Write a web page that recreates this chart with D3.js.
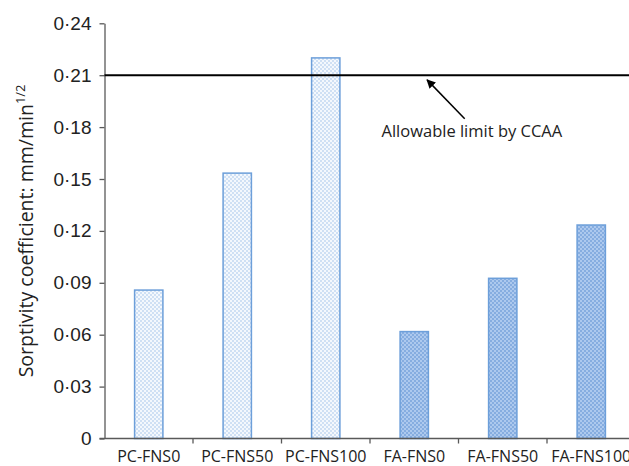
<!DOCTYPE html>
<html>
<head>
<meta charset="utf-8">
<script src="https://cdn.jsdelivr.net/npm/d3@7"></script>
<style>
  body { margin: 0; background: #fff; }
  svg { display: block; font-family: "Open Sans", sans-serif; }
</style>
</head>
<body>
<div id="chart"></div>
<script>
// chart data
const categories = ['PC-FNS0', 'PC-FNS50', 'PC-FNS100', 'FA-FNS0', 'FA-FNS50', 'FA-FNS100'];
const sorptivity = [0.0858, 0.1534, 0.2200, 0.0618, 0.0926, 0.1234];
const groups = ['PC', 'PC', 'PC', 'FA', 'FA', 'FA'];
const yTicks = [0, 0.03, 0.06, 0.09, 0.12, 0.15, 0.18, 0.21, 0.24];
const limitValue = 0.21;
const limitLabel = 'Allowable limit by CCAA';

const width = 629;
const height = 466;

const svg = d3.select('#chart')
    .append('svg')
    .attr('width', width)
    .attr('height', height);

// patterns for the two groups
const defs = svg.append('defs');

const pcPat = defs.append('pattern')
    .attr('id', 'pat-PC')
    .attr('patternUnits', 'userSpaceOnUse')
    .attr('width', 4).attr('height', 4);
pcPat.append('rect').attr('width', 4).attr('height', 4).attr('fill', '#f4f8fd');
pcPat.append('rect').attr('x', 0).attr('y', 0).attr('width', 2).attr('height', 2).attr('fill', '#cfe0f4');
pcPat.append('rect').attr('x', 2).attr('y', 2).attr('width', 2).attr('height', 2).attr('fill', '#cfe0f4');

const faPat = defs.append('pattern')
    .attr('id', 'pat-FA')
    .attr('patternUnits', 'userSpaceOnUse')
    .attr('width', 4).attr('height', 4);
faPat.append('rect').attr('width', 4).attr('height', 4).attr('fill', '#86ade0');
faPat.append('rect').attr('x', 0).attr('y', 0).attr('width', 2).attr('height', 2).attr('fill', '#adc9ee');
faPat.append('rect').attr('x', 2).attr('y', 2).attr('width', 2).attr('height', 2).attr('fill', '#adc9ee');

const marker = defs.append('marker')
    .attr('id', 'arrow')
    .attr('viewBox', '0 0 10 10')
    .attr('refX', 9).attr('refY', 5)
    .attr('markerWidth', 9).attr('markerHeight', 9)
    .attr('orient', 'auto-start-reverse')
    .attr('markerUnits', 'userSpaceOnUse');
marker.append('path').attr('d', 'M0,0 L10,5 L0,10 Z').attr('fill', '#000');

// scales
const plotLeft = 104.5;
const bandW = 88.5;

const xScale = d3.scaleBand()
    .domain(categories)
    .range([plotLeft, plotLeft + bandW * categories.length])
    .paddingInner(0.68)
    .paddingOuter(0.34);

// continuous version of the category axis, for the annotation
const xPos = d3.scaleLinear()
    .domain([0, categories.length])
    .range([plotLeft, plotLeft + bandW * categories.length]);

const yScale = d3.scaleLinear()
    .domain([0, 0.24])
    .range([438.5, 23.3]);

const fmt = d => d === 0 ? '0' : d.toFixed(2).replace('.', '\u00B7');

// y axis
const yAxis = d3.axisLeft(yScale).tickValues(yTicks).tickFormat(fmt).tickSize(5).tickSizeOuter(0);
const gy = svg.append('g')
    .attr('transform', 'translate(' + plotLeft + ',0)')
    .call(yAxis);
gy.selectAll('text').attr('font-size', 19).attr('fill', '#222').attr('x', -13);
gy.selectAll('line, path').attr('stroke', '#595959').attr('stroke-width', 1.3);

// bars
svg.selectAll('rect.bar')
    .data(sorptivity)
    .enter()
    .append('rect')
    .attr('class', 'bar')
    .attr('x', (d, i) => xScale(categories[i]))
    .attr('y', d => yScale(d))
    .attr('width', xScale.bandwidth())
    .attr('height', d => yScale(0) - yScale(d))
    .attr('fill', (d, i) => 'url(#pat-' + groups[i] + ')')
    .attr('stroke', '#6d9fda')
    .attr('stroke-width', 1.5);

// x axis with ticks between categories
const gx = svg.append('g')
    .attr('transform', 'translate(0,' + yScale(0) + ')');
gx.append('line')
    .attr('x1', plotLeft - 5).attr('x2', width)
    .attr('stroke', '#595959').attr('stroke-width', 1.3);
gx.selectAll('line.tick')
    .data(d3.range(1, categories.length))
    .enter()
    .append('line')
    .attr('class', 'tick')
    .attr('x1', d => xPos(d)).attr('x2', d => xPos(d))
    .attr('y1', 0).attr('y2', 5)
    .attr('stroke', '#595959').attr('stroke-width', 1.3);
gx.selectAll('text')
    .data(categories)
    .enter()
    .append('text')
    .attr('x', d => xScale(d) + xScale.bandwidth() / 2)
    .attr('y', 23.5)
    .attr('text-anchor', 'middle')
    .attr('font-size', 16)
    .attr('fill', '#222')
    .text(d => d);

// limit line
svg.append('line')
    .attr('x1', plotLeft).attr('x2', width)
    .attr('y1', yScale(limitValue)).attr('y2', yScale(limitValue))
    .attr('stroke', '#000').attr('stroke-width', 2);

// annotation arrow and label
svg.append('line')
    .attr('x1', xPos(4.07)).attr('y1', yScale(0.1848))
    .attr('x2', xPos(3.645)).attr('y2', yScale(0.2073))
    .attr('stroke', '#000').attr('stroke-width', 1.5)
    .attr('marker-end', 'url(#arrow)');

svg.append('text')
    .attr('x', xPos(3.13))
    .attr('y', yScale(0.1744))
    .attr('font-size', 16.5)
    .attr('fill', '#222')
    .text(limitLabel);

// y axis title
const yTitle = svg.append('text')
    .attr('transform', 'translate(33,' + ((yScale(0) + yScale(0.24)) / 2) + ') rotate(-90)')
    .attr('text-anchor', 'middle')
    .attr('font-size', 19.5)
    .attr('fill', '#222');
yTitle.append('tspan').text('Sorptivity coefficient: mm/min');
yTitle.append('tspan').attr('font-size', 13).attr('dy', -8).text('1/2');
</script>
</body>
</html>
